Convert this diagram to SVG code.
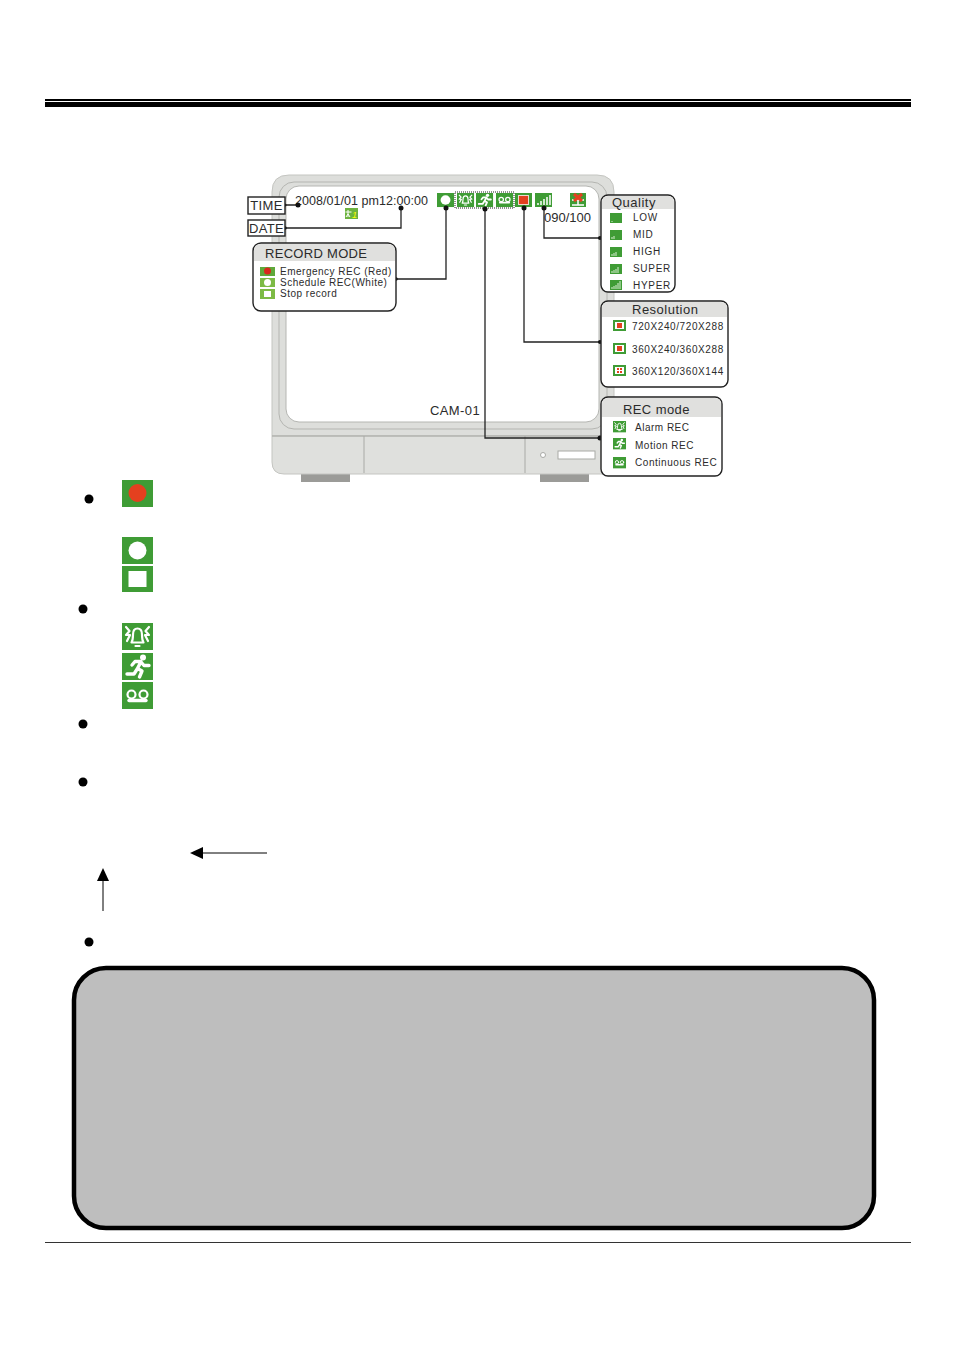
<svg xmlns="http://www.w3.org/2000/svg" width="954" height="1350" viewBox="0 0 954 1350">
<style>
text{font-family:"Liberation Sans",Arial,sans-serif;fill:#2b2b2b}
.b{fill:#fff;stroke:#222;stroke-width:1.4}
.h{fill:#e0e0de}
.c{fill:none;stroke:#222;stroke-width:1.3}
.d{fill:#111}
.t10{font-size:10px}
.t13{font-size:13px}
.g{fill:#3f9c35}
.w{fill:#fff}
.ws{fill:none;stroke:#fff;stroke-width:2.2;stroke-linecap:round;stroke-linejoin:round}
.wr{fill:none;stroke:#fff;stroke-width:3.4;stroke-linecap:round;stroke-linejoin:round}
.m{fill:none;stroke:#b4b5b1;stroke-width:1}
</style>
<defs>
<g id="iRed"><rect class="g" width="31" height="27"/><circle cx="15.500" cy="13" r="9" fill="#e4401f"/></g>
<g id="iCirc"><rect class="g" width="31" height="27"/><circle cx="15.500" cy="13.500" r="9" class="w"/></g>
<g id="iSq"><rect class="g" width="31" height="26"/><rect x="6.500" y="5" width="18" height="16" class="w"/></g>
<g id="iBell"><rect class="g" width="31" height="27"/><path class="ws" d="M9.500 19.500Q11 17 11 11.500Q11 5.500 15.500 5.500T20 11.500Q20 17 21.500 19.500ZM13.500 23H17.500M4 4L7.500 8L4 12H8L5 18M27 4L23.500 8L27 12H23L26 18"/></g>
<g id="iRun"><rect class="g" width="31" height="27"/><circle cx="21" cy="4.500" r="3" class="w"/><path class="wr" d="M10 12L13 8.500H19L15.500 15.500L20 18L17.500 24M15.500 15.500L12 21H5M19 9L22 12.500H27"/></g>
<g id="iTape"><rect class="g" width="31" height="27"/><circle cx="9.500" cy="12.500" r="4" class="ws"/><circle cx="21.500" cy="12.500" r="4" class="ws"/><path class="wr" d="M7 18.500H24"/></g>
</defs>
<rect width="954" height="1350" fill="#fff"/>
<g id="rules">
<rect x="45" y="99" width="866" height="2" fill="#000"/>
<rect x="45" y="102" width="866" height="5" fill="#000"/>
<rect x="45" y="1242" width="866" height="1" fill="#333"/>
</g>
<g id="monitor">
<rect x="301" y="474" width="49" height="8" fill="#9b9b98"/>
<rect x="540" y="474" width="49" height="8" fill="#9b9b98"/>
<path d="M272 436V192Q272 175 289 175H597Q614 175 614 192V436Z" fill="#dddedb" stroke="#c4c5c1"/>
<path d="M272 436H614V462Q614 474 602 474H284Q272 474 272 462Z" fill="#dfe0dd" stroke="#c4c5c1"/>
<path d="M272 436H614" stroke="#a9aaa6"/>
<rect class="m" x="279" y="182" width="328" height="247" rx="15"/>
<rect x="286" y="186" width="313" height="236" rx="13" fill="#fff" stroke="#b5b6b2"/>
<path d="M364 436V473M525 436V473" stroke="#a9aaa6" fill="none"/>
<circle cx="543" cy="455" r="2.500" fill="#fff" stroke="#a9aaa6"/>
<rect x="558" y="451" width="37" height="8" fill="#fff" stroke="#a9aaa6"/>
<text x="430" y="415" class="t13" letter-spacing=".4">CAM-01</text>
</g>
<g id="osd">
<text x="295" y="205" font-size="12.500" letter-spacing=".05">2008/01/01 pm12:00:00</text>
<rect x="345" y="208" width="13" height="11" fill="#6db33f"/>
<path d="M348 210v7M345.500 212h6M346 217l2-3 2 3" stroke="#fff" fill="none"/><text x="352" y="218" font-size="9" font-style="italic" style="fill:#ff0">1</text>
<g transform="translate(437 193) scale(.55 .52)"><use href="#iCirc"/></g>
<rect x="455" y="192" width="59" height="16" fill="none" stroke="#222" stroke-dasharray="1 1"/>
<g transform="translate(457 193) scale(.55 .52)"><use href="#iBell"/></g>
<g transform="translate(476 193) scale(.55 .52)"><use href="#iRun"/></g>
<g transform="translate(496 193) scale(.55 .52)"><use href="#iTape"/></g>
<rect x="515" y="193" width="17" height="14" fill="#3f9c35"/><rect x="518" y="195" width="11" height="10" fill="#ecd9cf"/><rect x="519" y="196" width="9" height="8" fill="#e4401f"/>
<g id="osdSig"><rect x="535" y="193" width="17" height="14" fill="#3f9c35"/><path d="M538 205v-2M541 205v-4M544 205v-6M547 205v-8M550 205v-10" stroke="#fff" stroke-width="1.500"/></g>
<rect x="570" y="193" width="16" height="14" fill="#3f9c35"/><path d="M572 200h12M572 205h12M578 200v5" stroke="#fff" stroke-width="1.500" fill="none"/><path d="M574 194L582 201M582 194L574 201" stroke="#e4401f" stroke-width="3"/>
<text x="544" y="222" class="t13">090/100</text>
</g>
<g id="connectors">
<path class="c" d="M285 205H298M285 228H401V209M396 279H446V208M600 238H544V207M600 342H524V207M600 438H485V208"/>
<circle class="d" cx="298" cy="205" r="2.500"/><circle class="d" cx="285" cy="205" r="1.500"/>
<circle class="d" cx="401" cy="208" r="2.500"/><circle class="d" cx="285" cy="228" r="1.800"/>
<circle class="d" cx="446" cy="208" r="2.500"/><circle class="d" cx="396" cy="279" r="1.800"/>
<circle class="d" cx="544" cy="208" r="2.500"/><circle class="d" cx="600" cy="238" r="2"/>
<circle class="d" cx="524" cy="208" r="2.500"/><circle class="d" cx="600" cy="342" r="2"/>
<circle class="d" cx="485" cy="209" r="2.500"/><circle class="d" cx="600" cy="438" r="2.500"/>
</g>
<g id="time"><rect class="b" x="248" y="197" width="37" height="17"/><text x="266.500" y="210" class="t13" text-anchor="middle" letter-spacing=".3">TIME</text></g>
<g id="date"><rect class="b" x="248" y="220" width="37" height="16"/><text x="266.500" y="233" class="t13" text-anchor="middle" letter-spacing=".3">DATE</text></g>
<g id="recordmode">
<rect class="b" x="253" y="243" width="143" height="68" rx="8"/>
<path class="h" d="M254 261V251Q254 244 261 244H388Q395 244 395 251V261Z"/>
<text x="265" y="258" class="t13" letter-spacing=".3">RECORD MODE</text>
<rect x="260" y="267" width="15" height="9" fill="#5fa83a"/><circle cx="267.500" cy="271" r="3.500" fill="#d9281c"/>
<rect x="260" y="278" width="15" height="9" fill="#7dbb45"/><circle cx="267.500" cy="282.500" r="3.500" fill="#fff"/>
<rect x="260" y="289" width="15" height="10" fill="#7dbb45"/><rect x="264" y="291" width="7" height="6" fill="#fff"/>
<text x="280" y="275" class="t10" letter-spacing=".5">Emergency REC (Red)</text>
<text x="280" y="286" class="t10" letter-spacing=".5">Schedule REC(White)</text>
<text x="280" y="297" class="t10" letter-spacing=".5">Stop record</text>
</g>
<g id="quality">
<rect class="b" x="601" y="195" width="74" height="97" rx="7"/>
<path class="h" d="M602 209V202Q602 196 608 196H668Q674 196 674 202V209Z"/>
<text x="612" y="207" class="t13" letter-spacing=".5">Quality</text>
<rect x="610" y="213" width="12" height="10" fill="#3f9c35"/><rect x="610" y="230" width="12" height="10" fill="#3f9c35"/><rect x="610" y="247" width="12" height="10" fill="#3f9c35"/><rect x="610" y="264" width="12" height="10" fill="#3f9c35"/><rect x="610" y="280" width="12" height="10" fill="#3f9c35"/>
<path d="M612 222v-1M612 239v-2M614 239v-3M612 256v-2M614 256v-3M616 256v-4M612 273v-2M614 273v-3M616 273v-4M618 273v-6M612 289v-2M614 289v-3M616 289v-4M618 289v-6M620 289v-8" stroke="#dcefd6"/>
<text x="633" y="221" class="t10" letter-spacing=".7">LOW</text>
<text x="633" y="238" class="t10" letter-spacing=".7">MID</text>
<text x="633" y="255" class="t10" letter-spacing=".7">HIGH</text>
<text x="633" y="272" class="t10" letter-spacing=".7">SUPER</text>
<text x="633" y="289" class="t10" letter-spacing=".7">HYPER</text>
</g>
<g id="resolution">
<rect class="b" x="601" y="301" width="127" height="86" rx="7"/>
<path class="h" d="M602 317V308Q602 302 608 302H721Q727 302 727 308V317Z"/>
<text x="632" y="314" class="t13" letter-spacing=".5">Resolution</text>
<rect x="613" y="320" width="13" height="11" fill="#3f9c35"/><rect x="615" y="322" width="9" height="7" fill="#fff"/><rect x="617" y="323" width="5" height="5" fill="#e4401f"/>
<rect x="613" y="343" width="13" height="11" fill="#3f9c35"/><rect x="615" y="345" width="9" height="7" fill="#fff"/><rect x="617" y="346" width="5" height="5" fill="#e4401f"/>
<rect x="613" y="365" width="13" height="11" fill="#3f9c35"/><rect x="615" y="367" width="9" height="7" fill="#fff"/><path d="M617 368h2v2h-2zM620 368h2v2h-2zM617 371h2v2h-2zM620 371h2v2h-2z" fill="#e4401f"/>
<text x="632" y="330" class="t10" letter-spacing=".6">720X240/720X288</text>
<text x="632" y="353" class="t10" letter-spacing=".6">360X240/360X288</text>
<text x="632" y="375" class="t10" letter-spacing=".6">360X120/360X144</text>
</g>
<g id="recmode">
<rect class="b" x="601" y="397" width="121" height="79" rx="7"/>
<path class="h" d="M602 417V404Q602 398 608 398H715Q721 398 721 404V417Z"/>
<text x="623" y="414" class="t13" letter-spacing=".4">REC mode</text>
<g transform="translate(613 421) scale(.42 .42)"><use href="#iBell"/></g>
<g transform="translate(613 438) scale(.42 .42)"><use href="#iRun"/></g>
<g transform="translate(613 457) scale(.42 .42)"><use href="#iTape"/></g>
<text x="635" y="431" class="t10" letter-spacing=".5">Alarm REC</text>
<text x="635" y="449" class="t10" letter-spacing=".5">Motion REC</text>
<text x="635" y="466" class="t10" letter-spacing=".55">Continuous REC</text>
</g>
<g id="legend">
<circle cx="89" cy="499" r="4.500" fill="#000"/>
<circle cx="83" cy="609" r="4.500" fill="#000"/>
<circle cx="83" cy="724" r="4.500" fill="#000"/>
<circle cx="83" cy="782" r="4.500" fill="#000"/>
<circle cx="89" cy="942" r="4.500" fill="#000"/>
<use href="#iRed" x="122" y="480"/>
<use href="#iCirc" x="122" y="537"/>
<use href="#iSq" x="122" y="566"/>
<use href="#iBell" x="122" y="623"/>
<use href="#iRun" x="122" y="653"/>
<use href="#iTape" x="122" y="682"/>
</g>
<g id="arrows">
<path d="M203 853H267M103 880V911" stroke="#000" stroke-width="1" fill="none"/>
<path d="M190 853L203 847V859Z" fill="#000"/>
<path d="M103 868L97 881H109Z" fill="#000"/>
</g>
<g id="notebox"><rect x="74" y="968" width="800" height="260" rx="32" fill="#bebebe" stroke="#000" stroke-width="4.500"/></g>
</svg>
